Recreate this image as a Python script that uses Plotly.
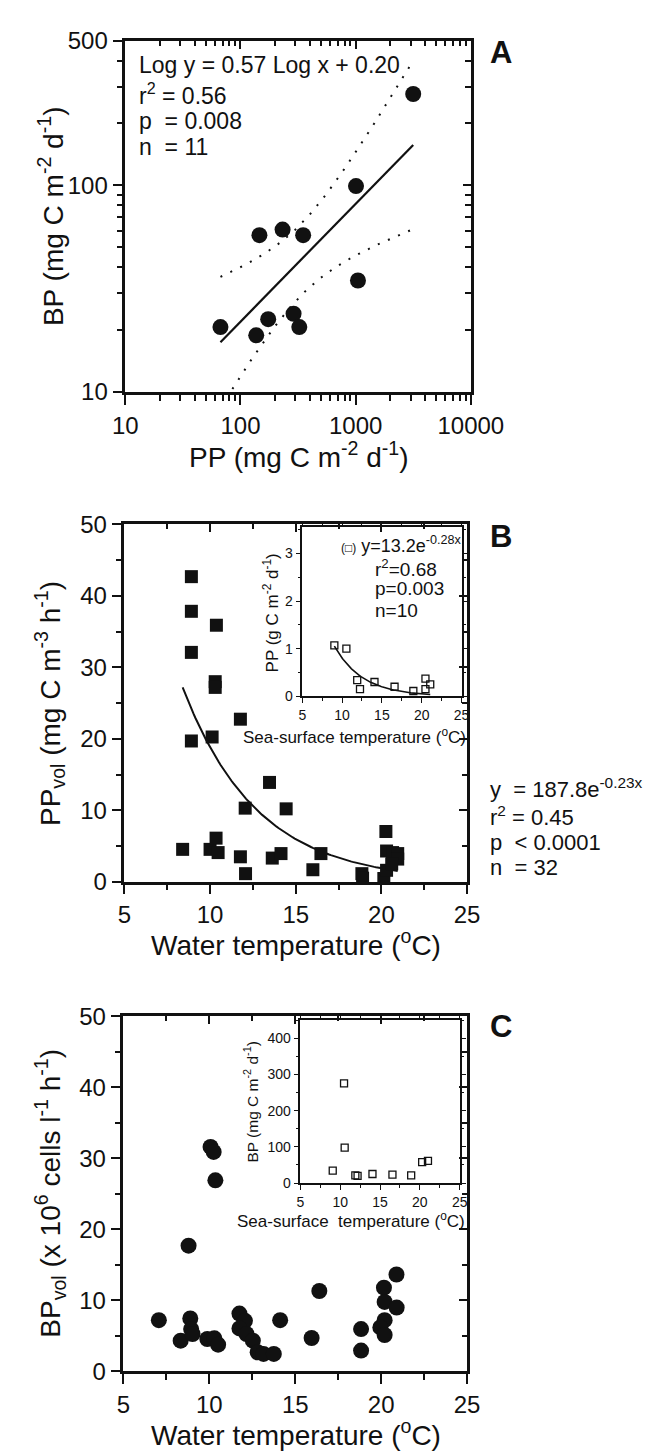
import numpy as np
import plotly.graph_objects as go

# ---------------- data ----------------
# Panel A : BP vs PP (log-log)
a_pp = [67, 137, 146, 174, 232, 289, 324, 350, 1007, 1047, 3160]
a_bp = [20.6, 18.8, 57.3, 22.5, 61.0, 23.9, 20.6, 57.3, 99.0, 34.6, 276.0]
a_slope, a_intercept = 0.57, 0.20
a_xticks = [10, 100, 1000, 10000]
a_yticks = [10, 100, 500]

# Panel B : PPvol vs water temperature
b_temp = [8.91, 8.91, 8.91, 8.91, 10.37, 10.30, 10.30, 10.12, 11.77, 13.47, 12.05,
          14.44, 8.40, 10.00, 10.35, 10.47, 11.77, 12.07, 13.63, 14.14, 16.47, 16.00,
          18.86, 18.90, 20.26, 20.14, 20.30, 20.65, 20.95, 20.95, 20.30, 20.60]
b_ppvol = [42.7, 37.85, 32.1, 19.7, 35.9, 28.0, 27.2, 20.26, 22.75, 13.9, 10.3,
           10.2, 4.53, 4.53, 6.1, 4.08, 3.49, 1.13, 3.31, 3.94, 3.94, 1.68,
           1.13, 0.5, 7.03, 0.45, 4.3, 4.08, 3.94, 3.17, 1.6, 2.5]
b_coef, b_rate = 187.8, -0.23
# Panel B inset : PP vs sea-surface temperature
b_in_sst = [9.03, 10.54, 11.90, 12.25, 14.07, 16.59, 18.95, 20.47, 20.47, 21.07]
b_in_pp = [1.07, 1.00, 0.34, 0.15, 0.30, 0.20, 0.11, 0.37, 0.15, 0.25]
b_in_coef, b_in_rate = 13.2, -0.28

# Panel C : BPvol vs water temperature
c_temp = [7.06, 8.33, 8.89, 8.94, 9.02, 8.79, 9.88, 10.29, 10.51, 10.07, 10.25,
          10.35, 11.75, 12.07, 11.75, 12.16, 12.53, 12.81, 13.15, 13.75, 14.12,
          15.95, 16.40, 18.83, 18.83, 20.16, 20.20, 20.20, 19.95, 20.20, 20.89, 20.90]
c_bpvol = [7.22, 4.33, 7.46, 5.97, 5.27, 17.7, 4.57, 4.66, 3.77, 31.6, 30.9,
           26.9, 8.15, 7.13, 6.06, 5.27, 4.33, 2.7, 2.47, 2.47, 7.22,
           4.71, 11.32, 5.97, 2.94, 11.79, 9.79, 7.22, 6.2, 5.13, 13.65, 8.99]
# Panel C inset : BP vs sea-surface temperature
c_in_sst = [9.06, 10.48, 10.56, 11.90, 12.18, 14.05, 16.56, 18.91, 20.29, 21.02]
c_in_bp = [34, 275, 98, 21, 20, 25, 23, 21, 58, 61]

# ---------------- style ----------------
W, H = 670, 1454
INK = "#111111"
FONT = "Liberation Sans, Arial, Helvetica, sans-serif"


def dx(x0, x1):
    return [x0 / W, x1 / W]


def dy(y0, y1):
    return [1 - y1 / H, 1 - y0 / H]


def px(x):
    return x / W


def py(y):
    return 1 - y / H


def main_axis(domain, anchor, rng, ticksz=24, **kw):
    d = dict(domain=domain, anchor=anchor, range=rng, showline=True, linecolor=INK,
             linewidth=2.5, mirror=True, ticks="outside", ticklen=10, tickwidth=2,
             tickcolor=INK, showgrid=False, zeroline=False,
             tickfont=dict(size=ticksz, color=INK, family=FONT))
    d.update(kw)
    return d


def overlay_axis(over, side, anchor, rng, **kw):
    d = dict(overlaying=over, side=side, anchor=anchor, range=rng, showline=False,
             ticks="inside", ticklen=8, tickwidth=2, tickcolor=INK,
             showticklabels=False, showgrid=False, zeroline=False)
    d.update(kw)
    return d


def inset_axis(domain, anchor, rng, **kw):
    d = dict(domain=domain, anchor=anchor, range=rng, showline=True, linecolor=INK,
             linewidth=1.5, mirror="ticks", ticks="outside", ticklen=5, tickwidth=1.3,
             tickcolor=INK, showgrid=False, zeroline=False,
             tickfont=dict(size=14, color=INK, family=FONT))
    d.update(kw)
    return d


fig = go.Figure()

# ---------- Panel A ----------
lx = np.log10(np.array(a_pp, dtype=float))
ly = np.log10(np.array(a_bp, dtype=float))
n = len(lx)
resid = ly - (a_slope * lx + a_intercept)
s = np.sqrt(np.sum(resid ** 2) / (n - 2))
sxx = np.sum((lx - lx.mean()) ** 2)
grid = np.linspace(lx.min(), lx.max(), 120)
half = 2.262 * s * np.sqrt(1.0 / n + (grid - lx.mean()) ** 2 / sxx)
fit_a = a_slope * grid + a_intercept

fig.add_trace(go.Scatter(x=10 ** grid, y=10 ** (fit_a + half), mode="lines",
                         line=dict(color=INK, width=2, dash="2px,9px"),
                         xaxis="x", yaxis="y", showlegend=False, hoverinfo="skip"))
fig.add_trace(go.Scatter(x=10 ** grid, y=10 ** (fit_a - half), mode="lines",
                         line=dict(color=INK, width=2, dash="2px,9px"),
                         xaxis="x", yaxis="y", showlegend=False, hoverinfo="skip"))
fig.add_trace(go.Scatter(x=10 ** grid, y=10 ** fit_a, mode="lines",
                         line=dict(color=INK, width=2.2),
                         xaxis="x", yaxis="y", showlegend=False, hoverinfo="skip"))
fig.add_trace(go.Scatter(x=a_pp, y=a_bp, mode="markers",
                         marker=dict(symbol="circle", size=16, color=INK),
                         xaxis="x", yaxis="y", showlegend=False, cliponaxis=False))

# ---------- Panel B ----------
xb = np.linspace(min(b_temp), max(b_temp), 120)
fig.add_trace(go.Scatter(x=xb, y=b_coef * np.exp(b_rate * xb), mode="lines",
                         line=dict(color=INK, width=2), xaxis="x2", yaxis="y2",
                         showlegend=False, hoverinfo="skip"))
fig.add_trace(go.Scatter(x=b_temp, y=b_ppvol, mode="markers",
                         marker=dict(symbol="square", size=13, color=INK),
                         xaxis="x2", yaxis="y2", showlegend=False, cliponaxis=False))
xbi = np.linspace(min(b_in_sst), max(b_in_sst), 120)
fig.add_trace(go.Scatter(x=xbi, y=b_in_coef * np.exp(b_in_rate * xbi), mode="lines",
                         line=dict(color=INK, width=1.6), xaxis="x3", yaxis="y3",
                         showlegend=False, hoverinfo="skip"))
fig.add_trace(go.Scatter(x=b_in_sst, y=b_in_pp, mode="markers",
                         marker=dict(symbol="square-open", size=7, color=INK,
                                     line=dict(width=1.3, color=INK)),
                         xaxis="x3", yaxis="y3", showlegend=False, cliponaxis=False))

# ---------- Panel C ----------
fig.add_trace(go.Scatter(x=c_temp, y=c_bpvol, mode="markers",
                         marker=dict(symbol="circle", size=16, color=INK),
                         xaxis="x4", yaxis="y4", showlegend=False, cliponaxis=False))
fig.add_trace(go.Scatter(x=c_in_sst, y=c_in_bp, mode="markers",
                         marker=dict(symbol="square-open", size=7, color=INK,
                                     line=dict(width=1.3, color=INK)),
                         xaxis="x5", yaxis="y5", showlegend=False, cliponaxis=False))

# empty traces to activate overlay (inside-tick) axes
for xa, ya in [("x6", "y"), ("x", "y6"), ("x7", "y2"), ("x2", "y7"), ("x8", "y4"), ("x4", "y8")]:
    fig.add_trace(go.Scatter(x=[], y=[], xaxis=xa, yaxis=ya, showlegend=False,
                             hoverinfo="skip"))

# ---------- axes ----------
a_xminor = [20, 30, 40, 50, 60, 70, 80, 90, 200, 300, 400, 500, 600, 700, 800, 900,
            2000, 3000, 4000, 5000, 6000, 7000, 8000, 9000]
a_yminor = [20, 30, 40, 50, 60, 70, 80, 90, 200, 300, 400]
ax_range = [1, 4]
ay_range = [1, np.log10(500)]

lin_x = dict(tickmode="linear", tick0=5, dtick=5)
lin_y = dict(tickmode="linear", tick0=0, dtick=10)

layout_axes = dict(
    # Panel A
    xaxis=main_axis(dx(112, 483), "y", ax_range, type="log", tickmode="array",
                    tickvals=a_xticks, ticktext=[str(v) for v in a_xticks],
                    minor=dict(tickmode="array", tickvals=a_xminor, ticks="outside",
                               ticklen=6, tickwidth=1.5, tickcolor=INK)),
    yaxis=main_axis(dy(19, 377), "x", ay_range, type="log", tickmode="array",
                    tickvals=a_yticks, ticktext=[str(v) for v in a_yticks],
                    minor=dict(tickmode="array", tickvals=a_yminor, ticks="outside",
                               ticklen=6, tickwidth=1.5, tickcolor=INK)),
    xaxis6=overlay_axis("x", "top", "y", ax_range, type="log", tickmode="array",
                        tickvals=a_xticks,
                        minor=dict(tickmode="array", tickvals=a_xminor, ticks="inside",
                                   ticklen=5, tickwidth=1.5, tickcolor=INK)),
    yaxis6=overlay_axis("y", "right", "x", ay_range, type="log", tickmode="array",
                        tickvals=a_yticks,
                        minor=dict(tickmode="array", tickvals=a_yminor, ticks="inside",
                                   ticklen=6, tickwidth=1.5, tickcolor=INK)),
    # Panel B main
    xaxis2=main_axis(dx(111, 479), "y2", [5, 25], **lin_x,
                     minor=dict(dtick=2.5, ticks="outside", ticklen=6, tickwidth=1.5,
                                tickcolor=INK)),
    yaxis2=main_axis(dy(512, 876), "x2", [0, 50], **lin_y,
                     minor=dict(dtick=5, ticks="outside", ticklen=6, tickwidth=1.5,
                                tickcolor=INK)),
    xaxis7=overlay_axis("x2", "top", "y2", [5, 25], **lin_x,
                        minor=dict(dtick=2.5, ticks="inside", ticklen=5, tickwidth=1.5,
                                   tickcolor=INK)),
    yaxis7=overlay_axis("y2", "right", "x2", [0, 50], **lin_y,
                        minor=dict(dtick=5, ticks="inside", ticklen=5, tickwidth=1.5,
                                   tickcolor=INK)),
    # Panel B inset
    xaxis3=inset_axis(dx(302, 473), "y3", [5, 25], **lin_x,
                      minor=dict(dtick=2.5, ticks="outside", ticklen=3, tickwidth=1,
                                 tickcolor=INK)),
    yaxis3=inset_axis(dy(515, 687), "x3", [0, 3.55], tickmode="linear", tick0=0, dtick=1,
                      minor=dict(dtick=0.5, ticks="outside", ticklen=3, tickwidth=1,
                                 tickcolor=INK)),
    # Panel C main
    xaxis4=main_axis(dx(110, 479), "y4", [5, 25], **lin_x,
                     minor=dict(dtick=2.5, ticks="outside", ticklen=6, tickwidth=1.5,
                                tickcolor=INK)),
    yaxis4=main_axis(dy(1013, 1375), "x4", [0, 50], **lin_y,
                     minor=dict(dtick=5, ticks="outside", ticklen=6, tickwidth=1.5,
                                tickcolor=INK)),
    xaxis8=overlay_axis("x4", "top", "y4", [5, 25], **lin_x,
                        minor=dict(dtick=2.5, ticks="inside", ticklen=5, tickwidth=1.5,
                                   tickcolor=INK)),
    yaxis8=overlay_axis("y4", "right", "x4", [0, 50], **lin_y,
                        minor=dict(dtick=5, ticks="inside", ticklen=5, tickwidth=1.5,
                                   tickcolor=INK)),
    # Panel C inset
    xaxis5=inset_axis(dx(300, 471), "y5", [5, 25], **lin_x,
                      minor=dict(dtick=2.5, ticks="outside", ticklen=3, tickwidth=1,
                                 tickcolor=INK)),
    yaxis5=inset_axis(dy(1017, 1183), "x5", [0, 450], tickmode="linear", tick0=0,
                      dtick=100,
                      minor=dict(dtick=50, ticks="outside", ticklen=3, tickwidth=1,
                                 tickcolor=INK)),
)


# ---------- text ----------
def ann(text, x, y, size, xanchor="center", yanchor="middle", angle=0):
    return dict(text=text, x=px(x), y=py(y), xref="paper", yref="paper",
                xanchor=xanchor, yanchor=yanchor, textangle=angle, showarrow=False,
                font=dict(size=size, color=INK, family=FONT))


deg = "(<sup>o</sup>C)"
annotations = [
    # panel letters
    ann("<b>A</b>", 515, 31, 31),
    ann("<b>B</b>", 515, 524, 31),
    ann("<b>C</b>", 515, 1023, 31),
    # Panel A
    ann("Log y = 0.57 Log x + 0.20", 125, 44, 23, xanchor="left"),
    ann("r<sup>2</sup> = 0.56", 125, 73, 23, xanchor="left"),
    ann("p  = 0.008", 125, 101, 23, xanchor="left"),
    ann("n  = 11", 125, 127, 23, xanchor="left"),
    ann("PP (mg C m<sup>-2</sup> d<sup>-1</sup>)", 298, 441, 28),
    ann("BP (mg C m<sup>-2</sup> d<sup>-1</sup>)", 33, 198, 28, angle=-90),
    # Panel B
    ann("PP<sub>vol</sub> (mg C m<sup>-3</sup> h<sup>-1</sup>)", 31, 694, 28, angle=-90),
    ann("Water temperature " + deg, 295, 938, 28),
    ann("y  = 187.8e<sup>-0.23x</sup>", 501, 781, 22, xanchor="left"),
    ann("r<sup>2</sup> = 0.45", 501, 809, 22, xanchor="left"),
    ann("p  < 0.0001", 501, 836, 22, xanchor="left"),
    ann("n  = 32", 501, 862, 22, xanchor="left"),
    # Panel B inset
    ann("<span style='font-size:12px'>(□)</span> y=13.2e<sup>-0.28x</sup>", 341, 532, 18,
        xanchor="left"),
    ann("r<sup>2</sup>=0.68", 378, 556, 19, xanchor="left"),
    ann("p=0.003", 378, 577, 19, xanchor="left"),
    ann("n=10", 378, 600, 19, xanchor="left"),
    ann("PP (g C m<sup>-2</sup> d<sup>-1</sup>)", 268, 602, 17, angle=-90),
    ann("Sea-surface temperature " + deg, 358, 727, 17),
    # Panel C
    ann("BP<sub>vol</sub> (x 10<sup>6</sup> cells l<sup>-1</sup> h<sup>-1</sup>)", 31, 1193,
        28, angle=-90),
    ann("Water temperature " + deg, 295, 1438, 28),
    # Panel C inset
    ann("BP (mg C m<sup>-2</sup> d<sup>-1</sup>)", 247, 1100, 15.5, angle=-90),
    ann("Sea-surface  temperature " + deg, 354, 1221, 17),
]

fig.update_layout(
    width=W, height=H, margin=dict(l=0, r=0, t=0, b=0),
    paper_bgcolor="white", plot_bgcolor="rgba(0,0,0,0)",
    font=dict(family=FONT, color=INK, size=16),
    showlegend=False,
    annotations=annotations,
    **layout_axes,
)

fig.write_html("out.html")
